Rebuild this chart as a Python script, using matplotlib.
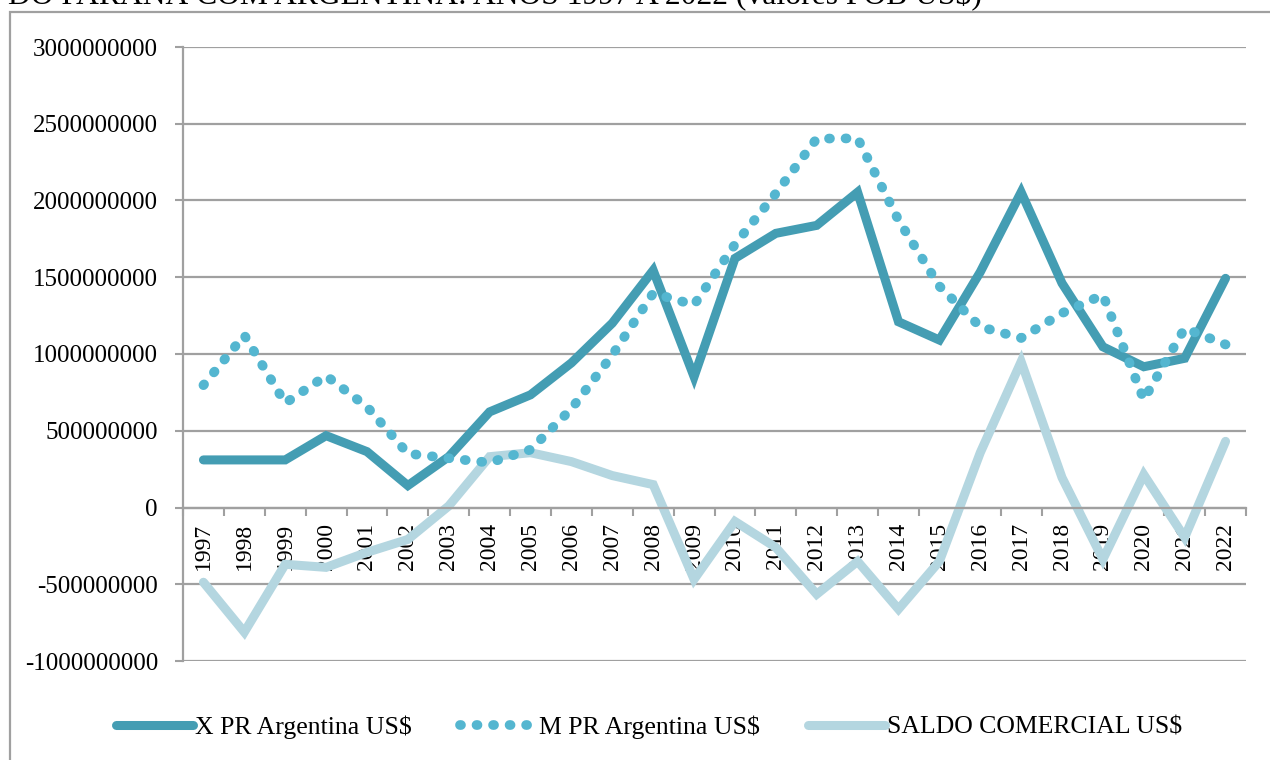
import numpy as np
import matplotlib.pyplot as plt
from matplotlib.patches import Rectangle

anos = [str(a) for a in range(1997, 2023)]

# valores FOB US$
x_pr = [310e6, 310e6, 310e6, 468e6, 364e6, 143e6, 331e6, 623e6, 734e6, 942e6,
        1201e6, 1545e6, 852e6, 1623e6, 1786e6, 1838e6, 2054e6, 1210e6, 1091e6, 1534e6,
        2054e6, 1461e6, 1047e6, 917e6, 972e6, 1493e6]
m_pr = [797e6, 1122e6, 680e6, 858e6, 656e6, 351e6, 321e6, 292e6, 377e6, 643e6,
        993e6, 1396e6, 1320e6, 1714e6, 2046e6, 2403e6, 2405e6, 1872e6, 1442e6, 1177e6,
        1104e6, 1266e6, 1385e6, 703e6, 1167e6, 1062e6]
saldo = [-487e6, -812e6, -370e6, -390e6, -292e6, -208e6, 10e6, 331e6, 357e6, 299e6,
         208e6, 149e6, -468e6, -91e6, -260e6, -565e6, -351e6, -662e6, -351e6, 357e6,
         950e6, 195e6, -338e6, 214e6, -195e6, 431e6]

y_ticks = [-1000000000, -500000000, 0, 500000000, 1000000000, 1500000000,
           2000000000, 2500000000, 3000000000]

titulo = "DO PARANÁ COM ARGENTINA: ANOS 1997 A 2022 (valores FOB US$)"

plt.rcParams['font.family'] = ['Liberation Serif', 'DejaVu Serif']

fig = plt.figure(figsize=(12.7, 7.6), dpi=100)
ax = fig.add_axes([183/1270, 1-661/760, (1246-183)/1270, (661-47)/760])

grey = '#a0a0a0'
x = np.arange(len(anos))

ax.plot(x, x_pr, color='#449db3', lw=6.5, solid_joinstyle='miter', solid_capstyle='round',
        label='X PR Argentina US$', zorder=3)
ax.plot(x, m_pr, color='#54b6d0', lw=7, linestyle=(0, (0.1, 1.6)), dash_capstyle='round',
        label='M PR Argentina US$', zorder=4)
ax.plot(x, saldo, color='#b4d6e0', lw=6.5, solid_joinstyle='miter', solid_capstyle='round',
        label='SALDO COMERCIAL US$', zorder=2)

ax.set_xlim(-0.5, len(anos) - 0.5)
ax.set_ylim(-1e9, 3e9)
ax.set_yticks(y_ticks)
ax.set_yticklabels([str(v) for v in y_ticks])
ax.yaxis.grid(True, color=grey, lw=1.6)
ax.set_axisbelow(True)

ax.set_xticks(x)
ax.set_xticklabels(anos, va='top')
ax.set_xticks(np.arange(-0.5, len(anos)), minor=True)
ax.tick_params(axis='x', which='major', length=0, pad=11, labelsize=17, labelrotation=90)
ax.tick_params(axis='x', which='minor', length=6, width=1.5, color=grey)
ax.tick_params(axis='y', length=6, width=1.5, color=grey, pad=12, labelsize=18)

for s in ['top', 'right']:
    ax.spines[s].set_visible(False)
ax.spines['bottom'].set_position(('data', 0))
ax.spines['bottom'].set_color(grey)
ax.spines['bottom'].set_linewidth(1.6)
ax.spines['left'].set_color(grey)
ax.spines['left'].set_linewidth(1.6)

fig.legend(loc='center', bbox_to_anchor=(0.511, 1-727/760), ncol=3, frameon=False,
           fontsize=18.5, handlelength=3.0, handletextpad=0.05, columnspacing=1.9)

# moldura do grafico
fig.patches.append(Rectangle((10/1270, -0.1), 1.2, 0.1 + 1-12/760, transform=fig.transFigure,
                             fill=False, edgecolor=grey, lw=1.6))

fig.text(8/1270, 1-4/760, titulo, fontsize=22.8, va='baseline', ha='left')

fig.savefig('out.png', dpi=100)
